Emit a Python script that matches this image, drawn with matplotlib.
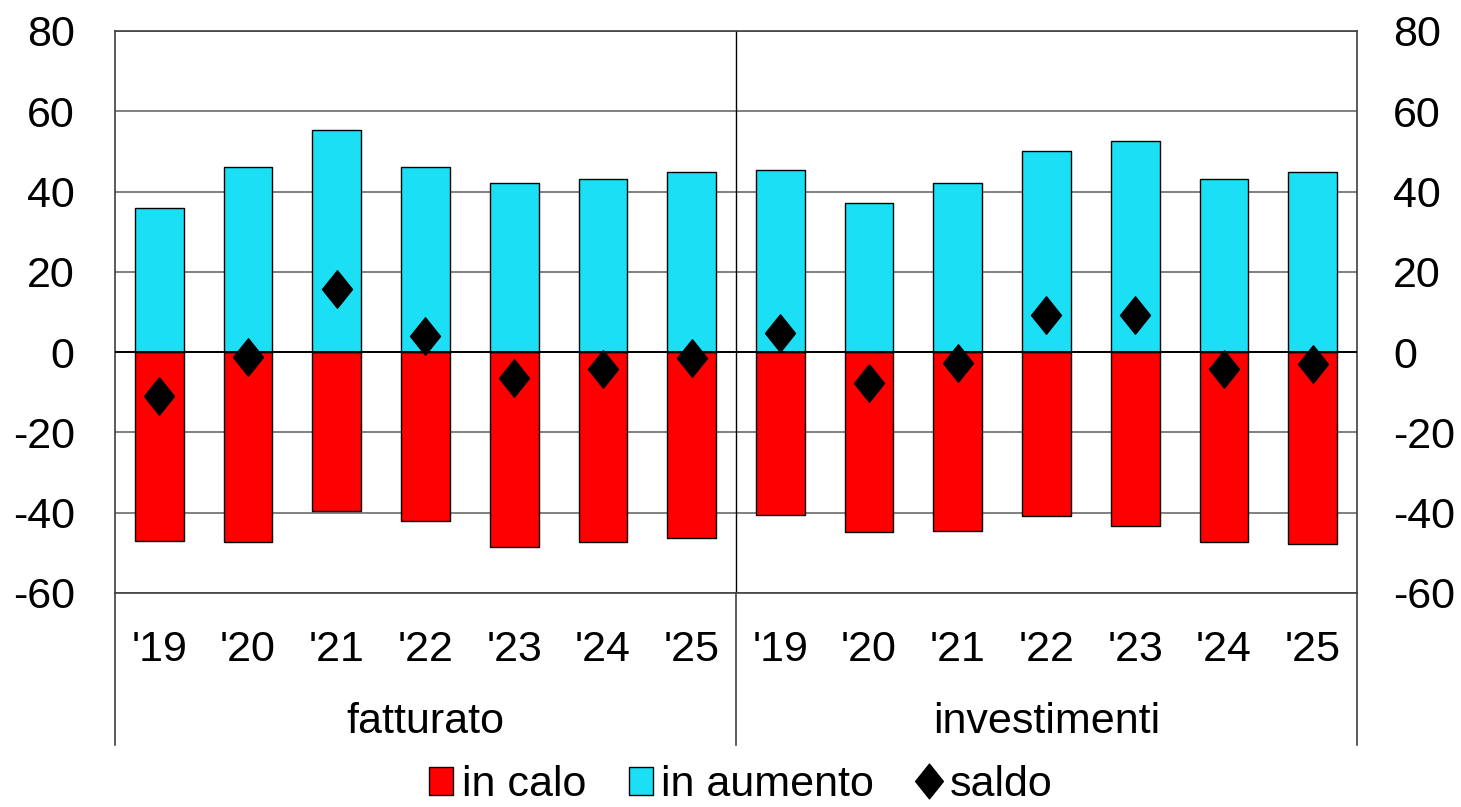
import numpy as np
import matplotlib
matplotlib.use("Agg")
import matplotlib.pyplot as plt
from matplotlib.patches import Patch
from matplotlib.lines import Line2D
from matplotlib.path import Path
import matplotlib.transforms as mtransforms

plt.rcParams['font.family'] = ['Liberation Sans', 'DejaVu Sans']
plt.rcParams['axes.unicode_minus'] = False

# dati: quota di imprese con fatturato / investimenti in calo e in aumento
anni = ["'19", "'20", "'21", "'22", "'23", "'24", "'25"]
gruppi = ["fatturato", "investimenti"]

fatt_calo = [-47, -47.3, -39.6, -42.1, -48.6, -47.3, -46.3]
fatt_aumento = [36, 46.1, 55.3, 46.1, 42.1, 43.1, 44.8]
fatt_saldo = [-11, -1.2, 15.7, 4, -6.5, -4.2, -1.5]

inv_calo = [-40.6, -44.8, -44.6, -40.9, -43.3, -47.3, -47.8]
inv_aumento = [45.3, 37.1, 42.1, 50.1, 52.6, 43.1, 44.8]
inv_saldo = [4.7, -7.7, -2.7, 9.2, 9.2, -4.2, -3.0]

calo = fatt_calo + inv_calo
aumento = fatt_aumento + inv_aumento
saldo = fatt_saldo + inv_saldo
etichette = anni + anni

ROSSO = '#ff0000'
CIANO = '#1be0f5'
FS = 31

# rombo un po' piu' alto che largo
rombo = Path([(0, 1), (0.8, 0), (0, -1), (-0.8, 0), (0, 1)],
             [Path.MOVETO, Path.LINETO, Path.LINETO, Path.LINETO, Path.CLOSEPOLY])

fig = plt.figure(figsize=(14.61, 8.07), dpi=100)
ax = fig.add_axes([0.0787, 0.2652, 0.8501, 0.6964])

x = np.arange(len(calo))
ax.bar(x, calo, width=0.55, color=ROSSO, edgecolor='black', linewidth=1, zorder=3)
ax.bar(x, aumento, width=0.55, color=CIANO, edgecolor='black', linewidth=1, zorder=3)
ax.plot(x, saldo, linestyle='none', marker=rombo, markersize=27,
        color='black', zorder=5)

ax.set_xlim(-0.5, len(calo) - 0.5)
ax.set_ylim(-60, 80)
ax.set_yticks(range(-60, 81, 20))
ax.yaxis.grid(True, color='#808080', linewidth=1.4, zorder=0)
ax.axhline(0, color='black', linewidth=1.4, zorder=4)
ax.axvline(6.5, color='black', linewidth=1, zorder=2)
ax.set_xticks([])
ax.tick_params(axis='y', length=0, labelsize=FS, pad=29)
for s in ax.spines.values():
    s.set_color('#404040')
    s.set_linewidth(1.2)

ax2 = ax.twinx()
ax2.set_ylim(-60, 80)
ax2.set_yticks(range(-60, 81, 20))
ax2.tick_params(axis='y', length=0, labelsize=FS, pad=26)
for s in ax2.spines.values():
    s.set_visible(False)

# asse delle categorie: anni e gruppi sotto il grafico
trans = mtransforms.blended_transform_factory(ax.transData, ax.transAxes)
for xi, lab in zip(x, etichette):
    ax.text(xi, -0.102, lab, transform=trans, ha='center', va='center', fontsize=FS)
for i, g in enumerate(gruppi):
    ax.text(3 + 7 * i, -0.23, g, transform=trans, ha='center', va='center', fontsize=FS)
for xv in [-0.5, 6.5, 13.5]:
    ax.plot([xv, xv], [0, -0.27], transform=trans, color='#404040',
            linewidth=1.2, clip_on=False)

handles = [
    Patch(facecolor=ROSSO, edgecolor='black', label='in calo'),
    Patch(facecolor=CIANO, edgecolor='black', label='in aumento'),
    Line2D([], [], linestyle='none', marker=rombo, markersize=25,
           color='black', label='saldo'),
]
fig.legend(handles=handles, loc='center', bbox_to_anchor=(0.507, 0.027),
           ncol=3, frameon=False, fontsize=FS, handlelength=0.55, handleheight=0.65,
           handletextpad=0.2, columnspacing=1.0, borderpad=0)

fig.savefig('out.png', dpi=100)
